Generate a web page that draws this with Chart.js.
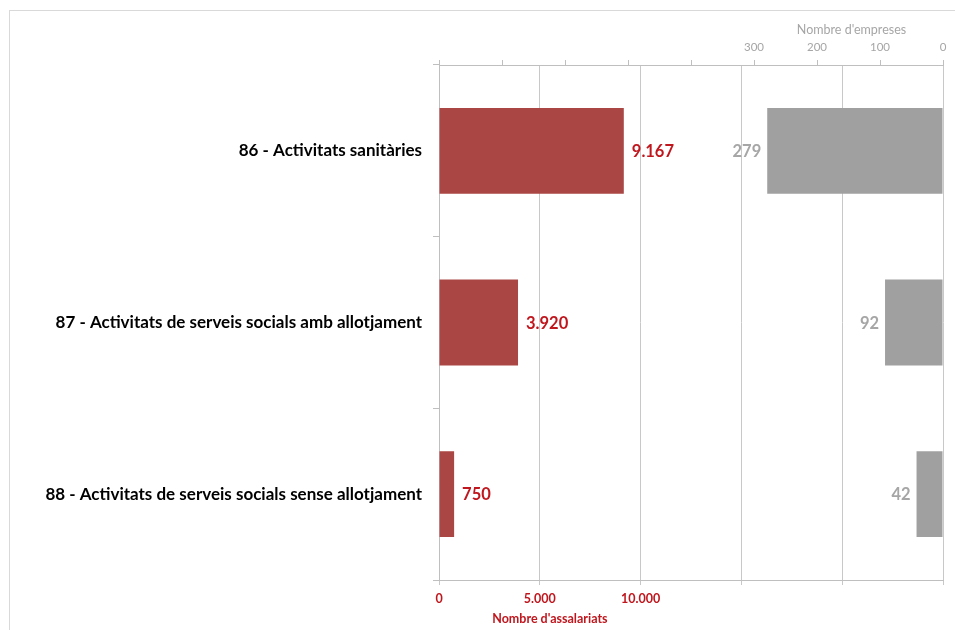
<!DOCTYPE html>
<html>
<head>
<meta charset="utf-8">
<script src="https://cdn.jsdelivr.net/npm/chart.js@4/dist/chart.umd.min.js"></script>
<style>
  body { margin: 0; background: #fff; }
  #frame { position: absolute; left: 9px; top: 10px; width: 960px; height: 640px; border: 1px solid #d9d9d9; }
  #wrap { position: absolute; left: 0; top: 0; width: 955px; height: 630px; }
</style>
</head>
<body>
<div id="frame"></div>
<div id="wrap"><canvas id="chart" width="955" height="630"></canvas></div>
<script>
const categories = [
  '86 - Activitats sanitàries',
  '87 - Activitats de serveis socials amb allotjament',
  '88 - Activitats de serveis socials sense allotjament'
];
const assalariats = [9167, 3920, 750];
const empreses = [279, 92, 42];
const assalariatsTicks = [0, 5000, 10000];
const empresesTicks = [0, 100, 200, 300];

const RED = '#c0161d';
const GRAY = '#a6a6a6';
const FONT = 'Lato, "Liberation Sans", sans-serif';

function fmt(v) {
  return String(v).replace(/\B(?=(\d{3})+(?!\d))/g, '.');
}

const labelPlugin = {
  id: 'barLabels',
  afterDatasetsDraw(chart) {
    const ctx = chart.ctx;
    ctx.save();
    ctx.font = 'bold 16.5px ' + FONT;
    ctx.textBaseline = 'middle';
    chart.getDatasetMeta(0).data.forEach((bar, i) => {
      ctx.fillStyle = RED;
      ctx.textAlign = 'left';
      ctx.fillText(fmt(assalariats[i]), bar.x + 8, bar.y + 1);
    });
    chart.getDatasetMeta(1).data.forEach((bar, i) => {
      ctx.fillStyle = GRAY;
      ctx.textAlign = 'right';
      ctx.fillText(fmt(empreses[i]), bar.x - 6, bar.y + 1);
    });

    // axis titles
    ctx.font = 'bold 12.5px ' + FONT;
    ctx.textAlign = 'center';
    ctx.fillStyle = RED;
    ctx.fillText("Nombre d'assalariats", chart.scales.x.getPixelForValue(5500), 619);
    ctx.font = '12.5px ' + FONT;
    ctx.fillStyle = GRAY;
    ctx.fillText("Nombre d'empreses", chart.scales.x2.getPixelForValue(150) + 3, 30);
    ctx.restore();
  }
};

new Chart(document.getElementById('chart'), {
  type: 'bar',
  data: {
    labels: categories,
    datasets: [
      {
        label: "Nombre d'assalariats",
        data: assalariats,
        xAxisID: 'x',
        backgroundColor: '#aa4643',
        grouped: false,
        barPercentage: 0.5,
        categoryPercentage: 1
      },
      {
        label: "Nombre d'empreses",
        data: empreses,
        xAxisID: 'x2',
        backgroundColor: '#a0a0a0',
        grouped: false,
        barPercentage: 0.5,
        categoryPercentage: 1
      }
    ]
  },
  options: {
    indexAxis: 'y',
    responsive: false,
    animation: false,
    layout: { padding: { left: 0, right: 12, top: 0, bottom: 0 } },
    plugins: {
      legend: { display: false },
      tooltip: { enabled: false }
    },
    scales: {
      y: {
        afterFit: s => { s.width = 439; },
        grid: { drawOnChartArea: false, tickLength: 6, color: '#bfbfbf' },
        border: { color: '#bfbfbf' },
        ticks: { color: '#000', font: { family: FONT, size: 17, weight: 'bold' }, padding: 11 }
      },
      x: {
        position: 'bottom',
        min: 0,
        max: 25000,
        afterFit: s => { s.height = 50; },
        grid: { color: '#c8c8c8', tickLength: 5 },
        border: { color: '#bfbfbf' },
        ticks: {
          stepSize: 5000,
          color: RED,
          padding: 6,
          font: { family: FONT, size: 12.5, weight: 'bold' },
          callback: v => assalariatsTicks.includes(v) ? fmt(v) : ''
        }
      },
      x2: {
        position: 'top',
        reverse: true,
        min: 0,
        max: 800,
        afterFit: s => { s.height = 65; },
        grid: { drawOnChartArea: false, tickLength: 5, color: '#bfbfbf' },
        border: { color: '#bfbfbf' },
        ticks: {
          stepSize: 100,
          color: GRAY,
          padding: 6,
          maxRotation: 0,
          font: { family: FONT, size: 11.5 },
          callback: v => empresesTicks.includes(v) ? String(v) : ''
        }
      }
    }
  },
  plugins: [labelPlugin]
});
</script>
</body>
</html>
